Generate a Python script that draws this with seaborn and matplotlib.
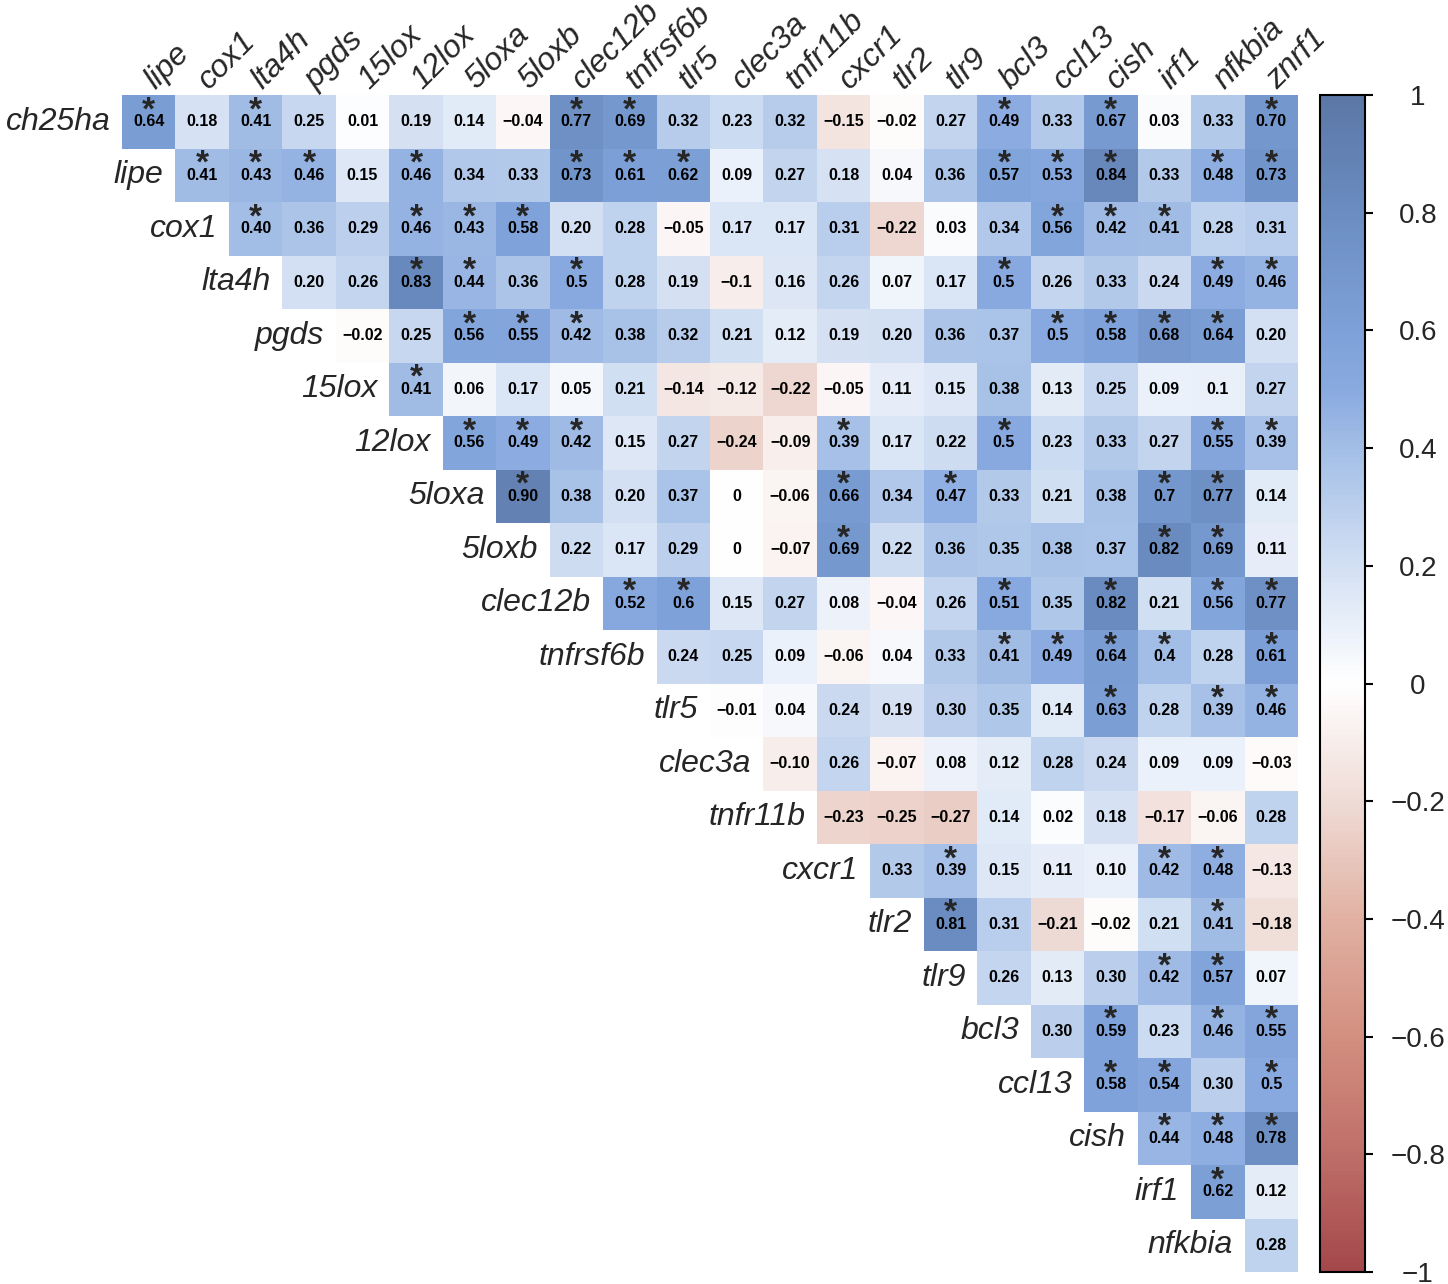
import numpy as np
import pandas as pd
import matplotlib
matplotlib.use("Agg")
import matplotlib.pyplot as plt
import seaborn as sns
from matplotlib.colors import LinearSegmentedColormap

row_genes = ["ch25ha", "lipe", "cox1", "lta4h", "pgds", "15lox", "12lox", "5loxa",
             "5loxb", "clec12b", "tnfrsf6b", "tlr5", "clec3a", "tnfr11b", "cxcr1",
             "tlr2", "tlr9", "bcl3", "ccl13", "cish", "irf1", "nfkbia"]
col_genes = ["lipe", "cox1", "lta4h", "pgds", "15lox", "12lox", "5loxa", "5loxb",
             "clec12b", "tnfrsf6b", "tlr5", "clec3a", "tnfr11b", "cxcr1", "tlr2",
             "tlr9", "bcl3", "ccl13", "cish", "irf1", "nfkbia", "znrf1"]

# printed coefficients, each row starts on the diagonal
r_text = [
    ["0.64", "0.18", "0.41", "0.25", "0.01", "0.19", "0.14", "-0.04", "0.77", "0.69", "0.32",
     "0.23", "0.32", "-0.15", "-0.02", "0.27", "0.49", "0.33", "0.67", "0.03", "0.33", "0.70"],
    ["0.41", "0.43", "0.46", "0.15", "0.46", "0.34", "0.33", "0.73", "0.61", "0.62", "0.09",
     "0.27", "0.18", "0.04", "0.36", "0.57", "0.53", "0.84", "0.33", "0.48", "0.73"],
    ["0.40", "0.36", "0.29", "0.46", "0.43", "0.58", "0.20", "0.28", "-0.05", "0.17", "0.17",
     "0.31", "-0.22", "0.03", "0.34", "0.56", "0.42", "0.41", "0.28", "0.31"],
    ["0.20", "0.26", "0.83", "0.44", "0.36", "0.5", "0.28", "0.19", "-0.1", "0.16", "0.26",
     "0.07", "0.17", "0.5", "0.26", "0.33", "0.24", "0.49", "0.46"],
    ["-0.02", "0.25", "0.56", "0.55", "0.42", "0.38", "0.32", "0.21", "0.12", "0.19", "0.20",
     "0.36", "0.37", "0.5", "0.58", "0.68", "0.64", "0.20"],
    ["0.41", "0.06", "0.17", "0.05", "0.21", "-0.14", "-0.12", "-0.22", "-0.05", "0.11", "0.15",
     "0.38", "0.13", "0.25", "0.09", "0.1", "0.27"],
    ["0.56", "0.49", "0.42", "0.15", "0.27", "-0.24", "-0.09", "0.39", "0.17", "0.22", "0.5",
     "0.23", "0.33", "0.27", "0.55", "0.39"],
    ["0.90", "0.38", "0.20", "0.37", "0", "-0.06", "0.66", "0.34", "0.47", "0.33", "0.21",
     "0.38", "0.7", "0.77", "0.14"],
    ["0.22", "0.17", "0.29", "0", "-0.07", "0.69", "0.22", "0.36", "0.35", "0.38", "0.37",
     "0.82", "0.69", "0.11"],
    ["0.52", "0.6", "0.15", "0.27", "0.08", "-0.04", "0.26", "0.51", "0.35", "0.82", "0.21",
     "0.56", "0.77"],
    ["0.24", "0.25", "0.09", "-0.06", "0.04", "0.33", "0.41", "0.49", "0.64", "0.4", "0.28", "0.61"],
    ["-0.01", "0.04", "0.24", "0.19", "0.30", "0.35", "0.14", "0.63", "0.28", "0.39", "0.46"],
    ["-0.10", "0.26", "-0.07", "0.08", "0.12", "0.28", "0.24", "0.09", "0.09", "-0.03"],
    ["-0.23", "-0.25", "-0.27", "0.14", "0.02", "0.18", "-0.17", "-0.06", "0.28"],
    ["0.33", "0.39", "0.15", "0.11", "0.10", "0.42", "0.48", "-0.13"],
    ["0.81", "0.31", "-0.21", "-0.02", "0.21", "0.41", "-0.18"],
    ["0.26", "0.13", "0.30", "0.42", "0.57", "0.07"],
    ["0.30", "0.59", "0.23", "0.46", "0.55"],
    ["0.58", "0.54", "0.30", "0.5"],
    ["0.44", "0.48", "0.78"],
    ["0.62", "0.12"],
    ["0.28"],
]

# 1 = significant (asterisk)
sig = [
    [1, 0, 1, 0, 0, 0, 0, 0, 1, 1, 0, 0, 0, 0, 0, 0, 1, 0, 1, 0, 0, 1],
    [1, 1, 1, 0, 1, 0, 0, 1, 1, 1, 0, 0, 0, 0, 0, 1, 1, 1, 0, 1, 1],
    [1, 0, 0, 1, 1, 1, 0, 0, 0, 0, 0, 0, 0, 0, 0, 1, 1, 1, 0, 0],
    [0, 0, 1, 1, 0, 1, 0, 0, 0, 0, 0, 0, 0, 1, 0, 0, 0, 1, 1],
    [0, 0, 1, 1, 1, 0, 0, 0, 0, 0, 0, 0, 0, 1, 1, 1, 1, 0],
    [1, 0, 0, 0, 0, 0, 0, 0, 0, 0, 0, 0, 0, 0, 0, 0, 0],
    [1, 1, 1, 0, 0, 0, 0, 1, 0, 0, 1, 0, 0, 0, 1, 1],
    [1, 0, 0, 0, 0, 0, 1, 0, 1, 0, 0, 0, 1, 1, 0],
    [0, 0, 0, 0, 0, 1, 0, 0, 0, 0, 0, 1, 1, 0],
    [1, 1, 0, 0, 0, 0, 0, 1, 0, 1, 0, 1, 1],
    [0, 0, 0, 0, 0, 0, 1, 1, 1, 1, 0, 1],
    [0, 0, 0, 0, 0, 0, 0, 1, 0, 1, 1],
    [0, 0, 0, 0, 0, 0, 0, 0, 0, 0],
    [0, 0, 0, 0, 0, 0, 0, 0, 0],
    [0, 1, 0, 0, 0, 1, 1, 0],
    [1, 0, 0, 0, 0, 1, 0],
    [0, 0, 0, 1, 1, 0],
    [0, 1, 0, 1, 1],
    [1, 1, 0, 1],
    [1, 1, 1],
    [1, 0],
    [0],
]

cbar_ticks = [1, 0.8, 0.6, 0.4, 0.2, 0, -0.2, -0.4, -0.6, -0.8, -1]

n = len(row_genes)
mat = np.full((n, n), np.nan)
annot = np.full((n, n), "", dtype=object)
for i in range(n):
    for k, s in enumerate(r_text[i]):
        j = i + k
        mat[i, j] = float(s)
        annot[i, j] = s.replace("-", "\u2212")
df = pd.DataFrame(mat, index=row_genes, columns=col_genes)

cmap = LinearSegmentedColormap.from_list("corr", [
    (0.0, "#a4474b"), (0.1, "#bf6f69"), (0.2, "#d38f80"), (0.3, "#e1b1a3"),
    (0.4, "#efdcd6"), (0.5, "#ffffff"), (0.6, "#d3e0f3"), (0.7, "#a3bee6"),
    (0.75, "#89aae0"), (0.8, "#7ea1d9"), (0.9, "#6b8dc2"), (1.0, "#5b77a6")])

sns.set_style("white")
plt.rcParams["font.family"] = ["Liberation Sans", "DejaVu Sans"]

fig = plt.figure(figsize=(14.48, 12.84), dpi=100)
ax = fig.add_axes([122 / 1448, 12 / 1284, 1176 / 1448, 1177 / 1284])
cax = fig.add_axes([1320 / 1448, 12 / 1284, 45 / 1448, 1177 / 1284])

sns.heatmap(df, ax=ax, cbar_ax=cax, cmap=cmap, vmin=-1, vmax=1,
            mask=np.isnan(mat), annot=annot, fmt="",
            annot_kws={"fontsize": 11.5, "fontweight": "bold", "color": "black",
                       "family": ["Liberation Sans Narrow", "Liberation Sans"]})

ax.set_xticks([])
ax.set_yticks([])
ax.set_xlabel("")
ax.set_ylabel("")
for sp in ax.spines.values():
    sp.set_visible(False)

for j, g in enumerate(col_genes):
    ax.text(j + 0.62, -0.1, g, rotation=45, rotation_mode="anchor",
            ha="left", va="baseline", fontsize=23, style="italic", clip_on=False)
for i, g in enumerate(row_genes):
    ax.text(i - 0.22, i + 0.5, g, ha="right", va="center",
            fontsize=23, style="italic", clip_on=False)

for i in range(n):
    for k, flag in enumerate(sig[i]):
        if flag:
            ax.text(i + k + 0.5, i + 0.45, "*", ha="center", va="baseline",
                    fontsize=24, fontweight="bold")

cbar = ax.collections[0].colorbar
cbar.set_ticks(cbar_ticks)
cbar.set_ticklabels([("%g" % t).replace("-", "\u2212") for t in cbar_ticks])
cbar.outline.set_edgecolor("black")
cbar.outline.set_linewidth(1.5)
cax.tick_params(axis="y", direction="out", length=6, width=1.5,
                labelsize=20, pad=32, color="black")
for t in cax.get_yticklabels():
    t.set_ha("center")

fig.savefig("out.png", dpi=100, facecolor="white")
